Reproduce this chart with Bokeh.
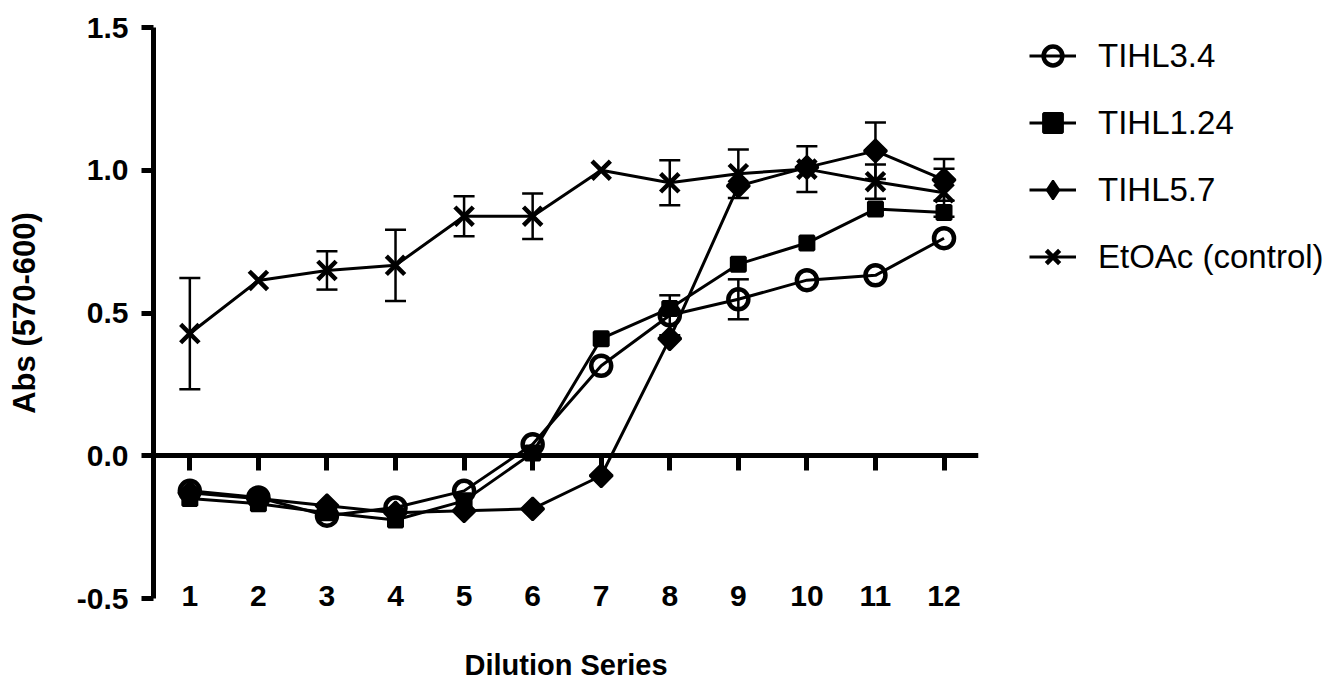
import math
from bokeh.plotting import figure
from bokeh.models import (Range1d, LinearAxis, FixedTicker, Legend, LegendItem,
                          Whisker, ColumnDataSource, TeeHead)
from bokeh.embed import file_html
from bokeh.resources import INLINE

# ---------------- data ----------------
dilution = [1, 2, 3, 4, 5, 6, 7, 8, 9, 10, 11, 12]
tihl34 = [-0.123, -0.146, -0.210, -0.181, -0.123, 0.040, 0.315, 0.492, 0.548, 0.615, 0.632, 0.762]
tihl124 = [-0.150, -0.168, -0.200, -0.225, -0.158, 0.010, 0.410, 0.516, 0.671, 0.745, 0.864, 0.852]
tihl57 = [-0.130, -0.150, -0.175, -0.200, -0.193, -0.186, -0.070, 0.410, 0.945, 1.010, 1.068, 0.966]
control = [0.428, 0.614, 0.649, 0.667, 0.839, 0.839, 1.000, 0.956, 0.988, 1.004, 0.960, 0.921]

err_tihl34 = [0, 0, 0, 0, 0, 0, 0, 0.070, 0.070, 0, 0, 0]
err_tihl124 = [0, 0, 0, 0, 0, 0, 0, 0, 0, 0, 0, 0]
err_tihl57 = [0, 0, 0, 0, 0, 0, 0, 0, 0, 0, 0.099, 0.073]
err_control = [0.195, 0, 0.067, 0.125, 0.070, 0.080, 0, 0.079, 0.085, 0.080, 0.060, 0.084]

series_names = ["TIHL3.4", "TIHL1.24", "TIHL5.7", "EtOAc (control)"]
y_ticks = [-0.5, 0.0, 0.5, 1.0, 1.5]
y_tick_labels = ["-0.5", "0.0", "0.5", "1.0", "1.5"]
x_title = "Dilution Series"
y_title = "Abs (570-600)"

FONT = "Liberation Sans"

p = figure(frame_width=825, frame_height=571,
           x_range=Range1d(0.47, 12.503), y_range=Range1d(-0.5, 1.5),
           output_backend="svg", toolbar_location=None,
           min_border_left=153, min_border_right=363,
           min_border_top=27, min_border_bottom=83,
           outline_line_color=None, background_fill_color="white")
p.grid.visible = False

# y axis
ya = p.yaxis[0]
ya.ticker = FixedTicker(ticks=y_ticks)
ya.major_label_overrides = {t: l for t, l in zip(y_ticks, y_tick_labels)}
ya.axis_line_width = 5
ya.major_tick_line_width = 5
ya.major_tick_out = 12
ya.major_tick_in = 0
ya.minor_tick_out = 0
ya.minor_tick_in = 0
ya.major_label_standoff = 13
ya.major_label_text_font = FONT
ya.major_label_text_font_style = "bold"
ya.major_label_text_font_size = "30px"
ya.major_label_text_color = "black"
ya.axis_label = y_title
ya.axis_label_text_font = FONT
ya.axis_label_text_font_style = "bold"
ya.axis_label_text_font_size = "31px"
ya.axis_label_text_color = "black"
ya.axis_label_standoff = 32

# x labels axis (bottom)
xa = p.xaxis[0]
xa.ticker = FixedTicker(ticks=dilution)
xa.axis_line_alpha = 0
xa.major_tick_out = 0
xa.major_tick_in = 0
xa.minor_tick_out = 0
xa.minor_tick_in = 0
xa.major_label_standoff = -13
xa.major_label_text_font = FONT
xa.major_label_text_font_style = "bold"
xa.major_label_text_font_size = "30px"
xa.major_label_text_color = "black"
xa.axis_label = x_title
xa.axis_label_text_font = FONT
xa.axis_label_text_font_style = "bold"
xa.axis_label_text_font_size = "29px"
xa.axis_label_text_color = "black"
xa.axis_label_standoff = 40

# zero line axis with ticks pointing down
za = LinearAxis(fixed_location=0, ticker=FixedTicker(ticks=dilution),
                axis_line_width=5, major_tick_line_width=5,
                major_tick_in=15, major_tick_out=0,
                minor_tick_in=0, minor_tick_out=0,
                major_label_text_font_size="0px", major_label_text_alpha=0,
                major_label_standoff=0)
p.add_layout(za, "above")

# error bars
def add_whiskers(vals, errs):
    xs = [x for x, e in zip(dilution, errs) if e > 0]
    up = [v + e for v, e in zip(vals, errs) if e > 0]
    lo = [v - e for v, e in zip(vals, errs) if e > 0]
    if not xs:
        return
    src = ColumnDataSource(dict(x=xs, upper=up, lower=lo))
    w = Whisker(base="x", upper="upper", lower="lower", source=src,
                dimension="height", line_width=2.5, line_color="black",
                upper_head=TeeHead(size=21, line_width=2.5, line_color="black"),
                lower_head=TeeHead(size=21, line_width=2.5, line_color="black"),
                level="underlay")
    p.add_layout(w)

add_whiskers(tihl34, err_tihl34)
add_whiskers(tihl124, err_tihl124)
add_whiskers(tihl57, err_tihl57)
add_whiskers(control, err_control)

LW = 3
l1 = p.line(dilution, tihl34, line_color="black", line_width=LW)
l2 = p.line(dilution, tihl124, line_color="black", line_width=LW)
l3 = p.line(dilution, tihl57, line_color="black", line_width=LW)
l4 = p.line(dilution, control, line_color="black", line_width=LW)

m1 = p.scatter(dilution, tihl34, marker="circle", size=20, line_color="black",
               line_width=4.5, fill_alpha=0)
m2 = p.scatter(dilution, tihl124, marker="square", size=14, line_color="black",
               line_width=3, fill_color="black")
# diamond symbol used for the legend (sits underneath the plotted diamonds)
m3_legend = p.scatter(dilution, tihl57, marker="diamond", size=14,
                      line_color="black", line_width=2, fill_color="black")
m3 = p.scatter(dilution, tihl57, marker="square", angle=math.pi / 4, size=16,
               line_color="black", line_width=2.5, fill_color="black")
m4 = p.scatter(dilution, control, marker="x", size=26, line_color="black",
               line_width=4.5)

items = [LegendItem(label=n, renderers=[l, m])
         for n, l, m in zip(series_names, [l1, l2, l3, l4], [m1, m2, m3_legend, m4])]
legend = Legend(items=items, location=(51, 314), glyph_width=47, glyph_height=55,
                label_height=55, label_standoff=22, spacing=12, padding=0, margin=0,
                border_line_alpha=0, background_fill_alpha=0,
                label_text_font=FONT, label_text_font_size="33px",
                label_text_color="black")
p.add_layout(legend, "right")

open("out.html", "w").write(file_html(p, INLINE))
